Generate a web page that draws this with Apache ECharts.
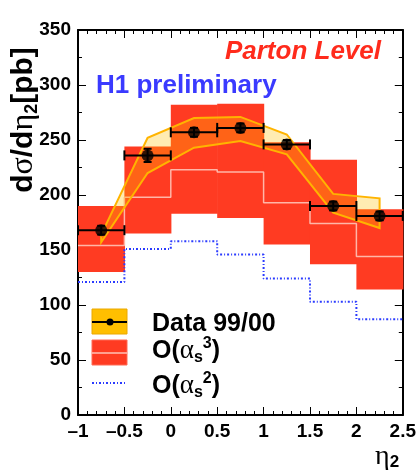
<!DOCTYPE html>
<html>
<head>
<meta charset="utf-8">
<script src="https://cdn.jsdelivr.net/npm/echarts@6/dist/echarts.min.js"></script>
<style>
  html, body { margin: 0; padding: 0; background: #fff; }
  #chart { width: 419px; height: 473px; }
</style>
</head>
<body>
<div id="chart"></div>
<script>
  // bins in eta_2 and the measured / predicted cross sections (pb)
  var binEdges = [-1, -0.5, 0, 0.5, 1, 1.5, 2, 2.5];
  var dataEta = [-0.75, -0.25, 0.25, 0.75, 1.25, 1.75, 2.25];
  var dataVal = [168, 236, 257, 261, 246, 190, 181];
  var dataErr = [4, 6, 4, 4, 4, 4, 4];
  // yellow uncertainty band of the data
  var bandHigh = [164, 252, 270, 271, 255, 201, 197];
  var bandLow = [157, 220, 243, 249, 237, 184, 170];
  // O(as^3) prediction: central value and band
  var nloVal = [154, 198, 223, 221, 193, 174, 144];
  var nloHigh = [190, 244, 282, 283, 248, 232, 187];
  var nloLow = [130, 165, 183, 179, 155, 137, 114];
  // O(as^2) prediction
  var loVal = [121, 151, 158, 146, 124, 103, 87];
  // tick labels
  var xTickLabels = ['\u20131', '\u20130.5', '0', '0.5', '1', '1.5', '2', '2.5'];
  var yTickLabels = ['0', '50', '100', '150', '200', '250', '300', '350'];

  var FONT = '"Liberation Sans", Arial, sans-serif';
  var SERIF = '"Liberation Serif", "DejaVu Serif", serif';

  function stepPoints(vals) {
    var pts = [];
    for (var i = 0; i < vals.length; i++) {
      pts.push([binEdges[i], vals[i]]);
      pts.push([binEdges[i + 1], vals[i]]);
    }
    return pts;
  }

  var nloBoxes = [];
  for (var i = 0; i < nloVal.length; i++) {
    nloBoxes.push([binEdges[i], binEdges[i + 1], nloLow[i], nloHigh[i]]);
  }
  var errItems = [];
  for (var k = 0; k < dataVal.length; k++) {
    errItems.push([dataEta[k], dataVal[k], dataErr[k], binEdges[k], binEdges[k + 1]]);
  }

  var axisCommon = {
    axisLine: { show: true, onZero: false, lineStyle: { color: '#000', width: 2 } },
    axisTick: { show: true, inside: true, length: 8, lineStyle: { color: '#000', width: 1 } },
    minorTick: { show: true, length: 4, lineStyle: { color: '#000', width: 1 } },
    splitLine: { show: false }
  };

  var chart = echarts.init(document.getElementById('chart'), null, { renderer: 'canvas' });
  chart.setOption({
    animation: false,
    backgroundColor: '#fff',
    grid: { left: 78, right: 14, top: 30, bottom: 58 },
    xAxis: [
      Object.assign({}, axisCommon, {
        type: 'value', position: 'bottom', min: -1, max: 2.5, interval: 0.5,
        minorTick: Object.assign({}, axisCommon.minorTick, { splitNumber: 5 }),
        axisLabel: {
          show: true, margin: 7, color: '#000', fontFamily: FONT, fontWeight: 'bold', fontSize: 19,
          showMinLabel: true, showMaxLabel: true,
          formatter: function (v) { return xTickLabels[Math.round((v + 1) * 2)]; }
        }
      }),
      Object.assign({}, axisCommon, {
        type: 'value', position: 'top', min: -1, max: 2.5, interval: 0.5,
        minorTick: Object.assign({}, axisCommon.minorTick, { splitNumber: 5 }),
        axisLabel: { show: false }
      })
    ],
    yAxis: [
      Object.assign({}, axisCommon, {
        type: 'value', position: 'left', min: 0, max: 350, interval: 50,
        minorTick: Object.assign({}, axisCommon.minorTick, { splitNumber: 2 }),
        axisLabel: {
          show: true, margin: 7, color: '#000', fontFamily: FONT, fontWeight: 'bold', fontSize: 19,
          formatter: function (v) { return yTickLabels[Math.round(v / 50)]; }
        }
      }),
      Object.assign({}, axisCommon, {
        type: 'value', position: 'right', min: 0, max: 350, interval: 50,
        minorTick: Object.assign({}, axisCommon.minorTick, { splitNumber: 2 }),
        axisLabel: { show: false }
      })
    ],
    series: [
      {
        // O(as^3) band
        type: 'custom',
        data: nloBoxes,
        z: 1,
        renderItem: function (params, api) {
          var p1 = api.coord([api.value(0), api.value(3)]);
          var p2 = api.coord([api.value(1), api.value(2)]);
          return {
            type: 'rect',
            shape: { x: p1[0], y: p1[1], width: p2[0] - p1[0] + 0.6, height: p2[1] - p1[1] },
            style: { fill: '#ff3b22' }
          };
        }
      },
      {
        type: 'line',
        data: stepPoints(nloVal),
        symbol: 'none',
        z: 2,
        lineStyle: { color: '#ffb6a8', width: 1.5 }
      },
      {
        type: 'line',
        data: stepPoints(loVal),
        symbol: 'none',
        z: 2,
        lineStyle: { color: '#2b3bff', width: 2, type: [2, 2, 1, 2] }
      },
      {
        // data uncertainty band, one polygon
        type: 'custom',
        data: [[0]],
        z: 3,
        renderItem: function (params, api) {
          var pts = [];
          for (var i = 0; i < dataEta.length; i++) pts.push(api.coord([dataEta[i], bandHigh[i]]));
          for (var j = dataEta.length - 1; j >= 0; j--) pts.push(api.coord([dataEta[j], bandLow[j]]));
          return {
            type: 'polygon',
            shape: { points: pts },
            style: { fill: 'rgba(255,192,0,0.3)', stroke: '#ffb400', lineWidth: 2 }
          };
        }
      },
      {
        // error bars of the data
        type: 'custom',
        data: errItems,
        z: 4,
        renderItem: function (params, api) {
          var c = api.coord([api.value(0), api.value(1)]);
          var lo = api.coord([api.value(3), api.value(1)]);
          var hi = api.coord([api.value(4), api.value(1)]);
          var top = api.coord([api.value(0), api.value(1) + api.value(2)]);
          var bot = api.coord([api.value(0), api.value(1) - api.value(2)]);
          var st = { stroke: '#000', lineWidth: 2 };
          return {
            type: 'group',
            children: [
              { type: 'line', shape: { x1: lo[0], y1: c[1], x2: hi[0], y2: c[1] }, style: st },
              { type: 'line', shape: { x1: lo[0], y1: c[1] - 5, x2: lo[0], y2: c[1] + 5 }, style: st },
              { type: 'line', shape: { x1: hi[0], y1: c[1] - 5, x2: hi[0], y2: c[1] + 5 }, style: st },
              { type: 'line', shape: { x1: c[0], y1: top[1], x2: c[0], y2: bot[1] }, style: st },
              { type: 'line', shape: { x1: c[0] - 4, y1: top[1], x2: c[0] + 4, y2: top[1] }, style: st },
              { type: 'line', shape: { x1: c[0] - 4, y1: bot[1], x2: c[0] + 4, y2: bot[1] }, style: st }
            ]
          };
        }
      },
      {
        type: 'scatter',
        data: dataEta.map(function (x, i) { return [x, dataVal[i]]; }),
        symbol: 'circle',
        symbolSize: 12,
        z: 5,
        itemStyle: { color: '#000' }
      }
    ],
    graphic: [
      {
        type: 'text', x: 381, y: 52,
        style: {
          text: 'Parton Level', fill: '#ff2b1c', font: 'italic bold 26px ' + FONT,
          align: 'right', textAlign: 'right', verticalAlign: 'middle', textVerticalAlign: 'middle'
        }
      },
      {
        type: 'text', x: 96, y: 86,
        style: {
          text: 'H1 preliminary', fill: '#3a3aff', font: 'bold 26px ' + FONT,
          verticalAlign: 'middle', textVerticalAlign: 'middle'
        }
      },
      {
        // y axis title
        type: 'text', x: 24, y: 120, rotation: Math.PI / 2,
        style: {
          text: '{m|d}{g|\u03c3}{m|/d}{g|\u03b7}{s|2}{m|[pb]}',
          align: 'center', textAlign: 'center', verticalAlign: 'middle', textVerticalAlign: 'middle',
          rich: {
            m: { fontFamily: FONT, fontWeight: 'bold', fontSize: 30, lineHeight: 34, fill: '#000', color: '#000' },
            g: { fontFamily: SERIF, fontSize: 32, lineHeight: 34, fill: '#000', color: '#000' },
            s: { fontFamily: FONT, fontWeight: 'bold', fontSize: 18, lineHeight: 16, verticalAlign: 'bottom', fill: '#000', color: '#000' }
          }
        }
      },
      {
        // x axis title
        type: 'text', x: 375, y: 457,
        style: {
          text: '{g|\u03b7}{s|2}',
          verticalAlign: 'middle', textVerticalAlign: 'middle',
          rich: {
            g: { fontFamily: SERIF, fontSize: 28, lineHeight: 28, fill: '#000', color: '#000' },
            s: { fontFamily: FONT, fontWeight: 'bold', fontSize: 17, lineHeight: 14, verticalAlign: 'bottom', fill: '#000', color: '#000' }
          }
        }
      },
      // legend
      { type: 'rect', shape: { x: 92, y: 309, width: 35, height: 25 }, style: { fill: '#ffbf00', stroke: '#eaa800', lineWidth: 1 } },
      { type: 'line', shape: { x1: 92, y1: 322, x2: 127, y2: 322 }, style: { stroke: '#000', lineWidth: 2 } },
      { type: 'circle', shape: { cx: 110, cy: 322, r: 3.5 }, style: { fill: '#000' } },
      { type: 'rect', shape: { x: 92, y: 340, width: 35, height: 25 }, style: { fill: '#ff3b22', stroke: '#ff6a55', lineWidth: 1 } },
      { type: 'line', shape: { x1: 92, y1: 353, x2: 127, y2: 353 }, style: { stroke: '#ffc2b6', lineWidth: 1.5 } },
      { type: 'line', shape: { x1: 92, y1: 383, x2: 127, y2: 383 }, style: { stroke: '#2b3bff', lineWidth: 2, lineDash: [2, 2, 1, 2] } },
      {
        type: 'text', x: 152, y: 324,
        style: { text: 'Data 99/00', fill: '#000', font: 'bold 25px ' + FONT, verticalAlign: 'middle', textVerticalAlign: 'middle' }
      },
      {
        type: 'text', x: 152, y: 351,
        style: {
          text: '{m|O(}{g|\u03b1}{s|s}{p|3}{m|)}',
          verticalAlign: 'middle', textVerticalAlign: 'middle',
          rich: {
            m: { fontFamily: FONT, fontWeight: 'bold', fontSize: 25, lineHeight: 30, fill: '#000', color: '#000' },
            g: { fontFamily: SERIF, fontSize: 27, lineHeight: 30, fill: '#000', color: '#000' },
            s: { fontFamily: FONT, fontWeight: 'bold', fontSize: 16, lineHeight: 14, verticalAlign: 'bottom', fill: '#000', color: '#000' },
            p: { fontFamily: FONT, fontWeight: 'bold', fontSize: 16, lineHeight: 14, verticalAlign: 'top', fill: '#000', color: '#000' }
          }
        }
      },
      {
        type: 'text', x: 152, y: 386,
        style: {
          text: '{m|O(}{g|\u03b1}{s|s}{p|2}{m|)}',
          verticalAlign: 'middle', textVerticalAlign: 'middle',
          rich: {
            m: { fontFamily: FONT, fontWeight: 'bold', fontSize: 25, lineHeight: 30, fill: '#000', color: '#000' },
            g: { fontFamily: SERIF, fontSize: 27, lineHeight: 30, fill: '#000', color: '#000' },
            s: { fontFamily: FONT, fontWeight: 'bold', fontSize: 16, lineHeight: 14, verticalAlign: 'bottom', fill: '#000', color: '#000' },
            p: { fontFamily: FONT, fontWeight: 'bold', fontSize: 16, lineHeight: 14, verticalAlign: 'top', fill: '#000', color: '#000' }
          }
        }
      }
    ]
  });
</script>
</body>
</html>
